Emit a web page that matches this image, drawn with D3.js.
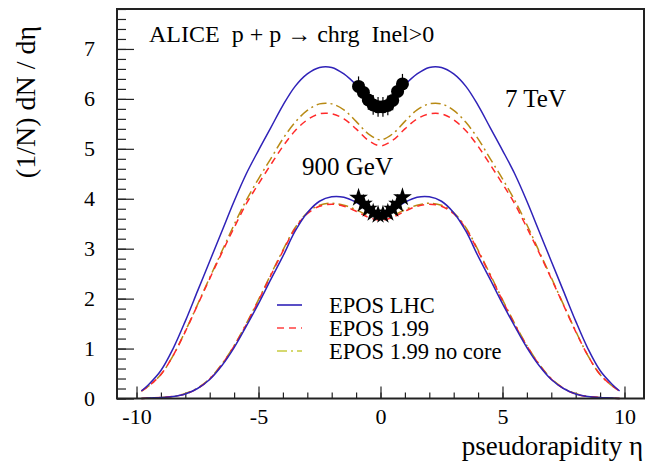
<!DOCTYPE html>
<html>
<head>
<meta charset="utf-8">
<script src="https://cdn.jsdelivr.net/npm/d3@7"></script>
<style>
  body { margin: 0; background: #fff; }
</style>
</head>
<body>
<div id="chart"></div>
<script>
// pseudorapidity grid of the model curves
const eta = [-9.8,-9.5,-9,-8.5,-8,-7.5,-7,-6.5,-6,-5.5,-5,-4.5,-4,-3.5,-3,-2.5,-2,-1.5,-1,-0.5,
             0,0.5,1,1.5,2,2.5,3,3.5,4,4.5,5,5.5,6,6.5,7,7.5,8,8.5,9,9.5,9.8];

// 7 TeV
const lhc7 = [0.15,0.28,0.56,1.0,1.55,2.15,2.75,3.35,3.95,4.5,4.97,5.42,5.87,6.25,6.5,6.63,6.63,6.5,6.28,6.0,
              5.88,6.0,6.28,6.5,6.63,6.63,6.5,6.25,5.87,5.42,4.97,4.5,3.95,3.35,2.75,2.15,1.55,1.0,0.56,0.28,0.15];
const epos7 = [0.15,0.25,0.48,0.86,1.34,1.87,2.4,2.92,3.42,3.9,4.3,4.68,5.05,5.36,5.58,5.7,5.7,5.6,5.4,5.17,
               5.06,5.17,5.4,5.6,5.7,5.7,5.58,5.36,5.05,4.68,4.3,3.9,3.42,2.92,2.4,1.87,1.34,0.86,0.48,0.25,0.15];
const nocore7 = [0.15,0.25,0.48,0.86,1.35,1.88,2.42,2.95,3.48,3.97,4.4,4.8,5.2,5.53,5.77,5.9,5.9,5.78,5.55,5.3,
                 5.18,5.3,5.55,5.78,5.9,5.9,5.77,5.53,5.2,4.8,4.4,3.97,3.48,2.95,2.42,1.88,1.35,0.86,0.48,0.25,0.15];

// 900 GeV
const lhc09 = [0,0.01,0.02,0.04,0.09,0.2,0.38,0.66,1.02,1.45,1.9,2.38,2.85,3.35,3.72,3.95,4.04,4.03,3.93,3.78,
               3.71,3.78,3.93,4.03,4.04,3.95,3.72,3.35,2.85,2.38,1.9,1.45,1.02,0.66,0.38,0.2,0.09,0.04,0.02,0.01,0];
const epos09 = [0,0.01,0.02,0.04,0.09,0.2,0.39,0.68,1.05,1.48,1.96,2.46,2.95,3.4,3.7,3.85,3.89,3.85,3.75,3.63,
                3.57,3.63,3.75,3.85,3.89,3.85,3.7,3.4,2.95,2.46,1.96,1.48,1.05,0.68,0.39,0.2,0.09,0.04,0.02,0.01,0];
const nocore09 = [0,0.01,0.02,0.04,0.1,0.21,0.4,0.69,1.06,1.5,1.98,2.48,2.97,3.42,3.72,3.87,3.91,3.87,3.78,3.66,
                  3.6,3.66,3.78,3.87,3.91,3.87,3.72,3.42,2.97,2.48,1.98,1.5,1.06,0.69,0.4,0.21,0.1,0.04,0.02,0.01,0];

// ALICE data
const dataEta = [-0.9,-0.7,-0.5,-0.3,-0.1,0.1,0.3,0.5,0.7,0.9];
const alice7 = [6.25,6.13,5.98,5.88,5.84,5.84,5.87,5.97,6.15,6.3];
const alice7err = [0.2,0.2,0.2,0.2,0.2,0.2,0.2,0.2,0.2,0.2];
const alice09 = [4.02,3.9,3.8,3.72,3.68,3.68,3.72,3.8,3.9,4.03];
const alice09err = [0.1,0.1,0.1,0.1,0.1,0.1,0.1,0.1,0.1,0.1];

const xMajor = [-10,-5,0,5,10];
const yMajor = [0,1,2,3,4,5,6,7];

const legendNames = ["EPOS LHC","EPOS 1.99","EPOS 1.99 no core"];

const width = 657, height = 462;
const mLeft = 117, mRight = 644, mTop = 9, mBottom = 398.5;
const serif = "'Liberation Serif', 'Times New Roman', serif";

const colBlue = "#2f22b8", colRed = "#ff2a2a", colGold = "#b88a14";

const svg = d3.select("#chart").append("svg")
  .attr("width", width).attr("height", height);
svg.append("rect").attr("width", width).attr("height", height).attr("fill", "#fff");

const x = d3.scaleLinear().domain([-10.8, 10.8]).range([mLeft, mRight]);
const y = d3.scaleLinear().domain([0, 7.8]).range([mBottom, mTop]);

// minor ticks
svg.append("g").attr("transform", "translate(0," + mBottom + ")")
  .call(d3.axisBottom(x).tickValues(d3.range(-10, 11, 1)).tickSize(-6).tickFormat(""))
  .call(g => g.select(".domain").remove());
svg.append("g").attr("transform", "translate(" + mLeft + ",0)")
  .call(d3.axisLeft(y).tickValues(d3.range(0, 7.81, 0.2)).tickSize(-9).tickFormat(""))
  .call(g => g.select(".domain").remove());

// major ticks with labels
const xAxis = svg.append("g").attr("transform", "translate(0," + mBottom + ")")
  .call(d3.axisBottom(x).tickValues(xMajor).tickSize(-12).tickPadding(10).tickFormat(d => String(d)));
xAxis.select(".domain").remove();
xAxis.selectAll("text").style("font-size", "22px").style("font-family", serif).attr("fill", "#000");

const yAxis = svg.append("g").attr("transform", "translate(" + mLeft + ",0)")
  .call(d3.axisLeft(y).tickValues(yMajor).tickSize(-17).tickPadding(22).tickFormat(d => String(d)));
yAxis.select(".domain").remove();
yAxis.selectAll("text").style("font-size", "22px").style("font-family", serif).attr("fill", "#000");

svg.selectAll(".tick line").attr("stroke", "#222").attr("stroke-width", 1.2);

// curves
const line = d3.line().x((d, i) => x(eta[i])).y(d => y(d)).curve(d3.curveCatmullRom);

const curves = [
  {v: nocore7, c: colGold, dash: "10,4,2,4"},
  {v: epos7, c: colRed, dash: "7,5"},
  {v: lhc7, c: colBlue, dash: null},
  {v: nocore09, c: colGold, dash: "10,4,2,4"},
  {v: epos09, c: colRed, dash: "7,5"},
  {v: lhc09, c: colBlue, dash: null}
];
svg.selectAll("path.curve").data(curves).enter().append("path")
  .attr("class", "curve")
  .attr("d", d => line(d.v))
  .attr("fill", "none")
  .attr("stroke", d => d.c)
  .attr("stroke-width", 1.5)
  .attr("stroke-dasharray", d => d.dash);

// ALICE 7 TeV points
svg.selectAll("line.err7").data(dataEta).enter().append("line")
  .attr("x1", d => x(d)).attr("x2", d => x(d))
  .attr("y1", (d, i) => y(alice7[i] - alice7err[i]))
  .attr("y2", (d, i) => y(alice7[i] + alice7err[i]))
  .attr("stroke", "#000").attr("stroke-width", 1.2);
svg.selectAll("circle.p7").data(dataEta).enter().append("circle")
  .attr("cx", d => x(d)).attr("cy", (d, i) => y(alice7[i]))
  .attr("r", 6.5).attr("fill", "#000");

// ALICE 900 GeV points
svg.selectAll("line.err09").data(dataEta).enter().append("line")
  .attr("x1", d => x(d)).attr("x2", d => x(d))
  .attr("y1", (d, i) => y(alice09[i] - alice09err[i]))
  .attr("y2", (d, i) => y(alice09[i] + alice09err[i]))
  .attr("stroke", "#000").attr("stroke-width", 1.2);
svg.selectAll("path.p09").data(dataEta).enter().append("path")
  .attr("transform", (d, i) => "translate(" + x(d) + "," + y(alice09[i]) + ")")
  .attr("d", d3.symbol(d3.symbolStar).size(110))
  .attr("fill", "#000");

// frame
svg.append("rect").attr("x", mLeft).attr("y", mTop)
  .attr("width", mRight - mLeft).attr("height", mBottom - mTop)
  .attr("fill", "none").attr("stroke", "#222").attr("stroke-width", 2);

// texts
function label(xp, yp, size, str) {
  return svg.append("text").attr("x", xp).attr("y", yp)
    .style("font-family", serif).style("font-size", size + "px").attr("fill", "#000")
    .style("white-space", "pre").text(str);
}
label(149, 42, 24, "ALICE  p + p \u2192 chrg  Inel>0");
label(505, 107, 25, "7 TeV");
label(302, 175, 25, "900 GeV");
label(643, 455, 27, "pseudorapidity \u03b7").attr("text-anchor", "end");
label(0, 0, 28, "(1/N) dN / d\u03b7").attr("text-anchor", "middle")
  .attr("transform", "translate(35,102) rotate(-90)");

// legend
const legColors = [colBlue, "#ff4040", "#c8cc40"];
const legDash = [null, "7,5", "10,4,2,4"];
const leg = svg.selectAll("g.leg").data(legendNames).enter().append("g")
  .attr("transform", (d, i) => "translate(277," + (305 + i * 23) + ")");
leg.append("line").attr("x1", 0).attr("x2", 25)
  .attr("stroke", (d, i) => legColors[i]).attr("stroke-width", 1.6)
  .attr("stroke-dasharray", (d, i) => legDash[i]);
leg.append("text").attr("x", 52).attr("y", 8)
  .style("font-family", serif).style("font-size", "22.5px").attr("fill", "#000").text(d => d);
</script>
</body>
</html>
